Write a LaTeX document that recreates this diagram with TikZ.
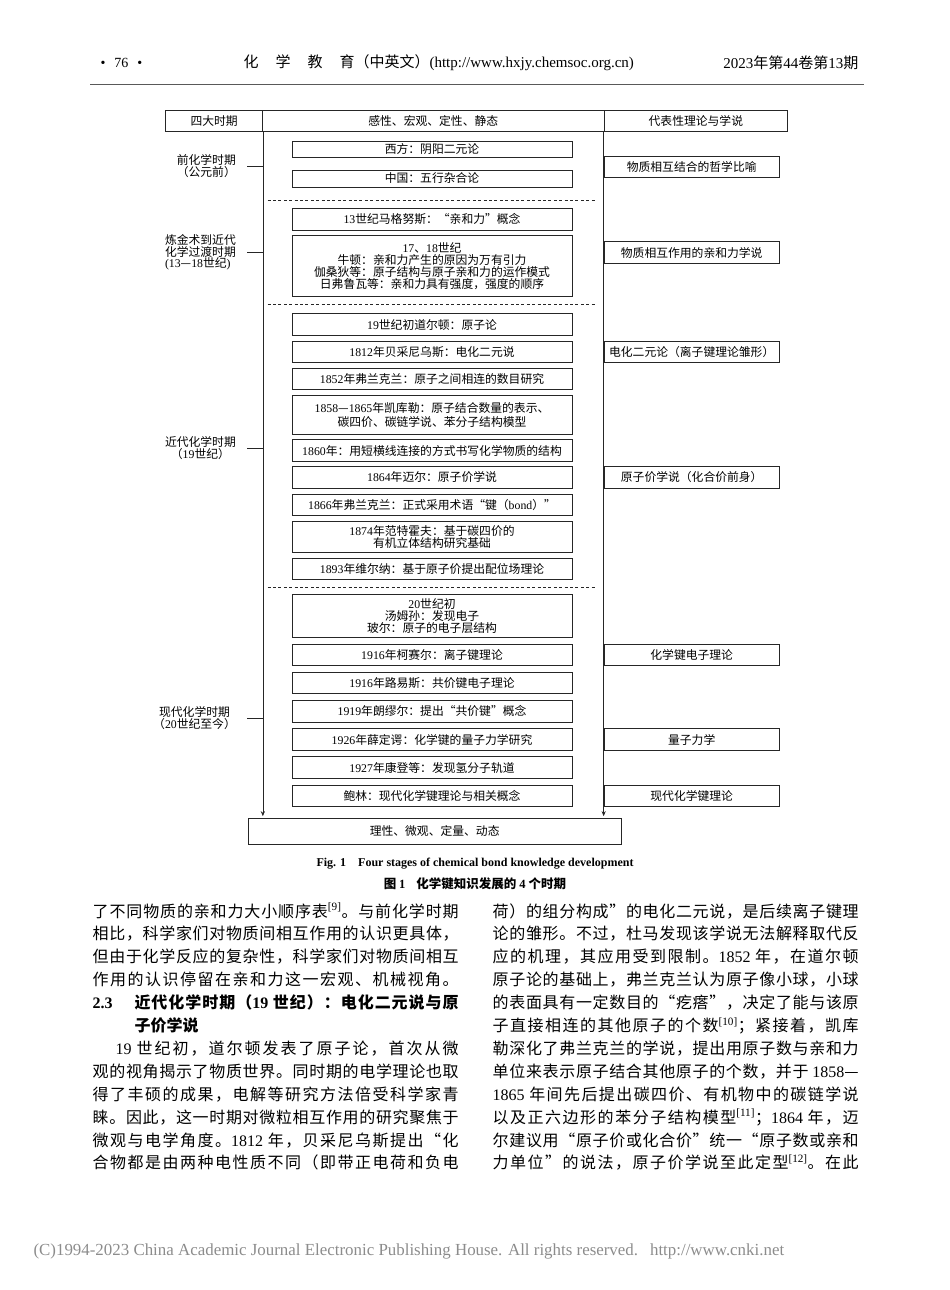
\documentclass[tikz,border=0pt]{standalone}
\usepackage{fontspec}
\setmainfont{Liberation Serif}
\newfontfamily\cjk{Noto Sans CJK SC}
\usetikzlibrary{arrows.meta,positioning}

% CJK runs switch font by themselves
\XeTeXinterchartokenstate=1
\newXeTeXintercharclass\CJKcls
\makeatletter
\count@="3000 \loop\XeTeXcharclass\count@=\CJKcls\advance\count@ 1 \ifnum\count@<"3040 \repeat
\count@="4E00 \loop\XeTeXcharclass\count@=\CJKcls\advance\count@ 1 \ifnum\count@<"A000 \repeat
\count@="FF00 \loop\XeTeXcharclass\count@=\CJKcls\advance\count@ 1 \ifnum\count@<"FF5F \repeat
\makeatother
\XeTeXcharclass"201C=\CJKcls \XeTeXcharclass"201D=\CJKcls \XeTeXcharclass"2014=\CJKcls
\newcommand\latinfam{\fontfamily{\rmdefault}\selectfont}
\XeTeXinterchartoks 0 \CJKcls = {\cjk}
\XeTeXinterchartoks 4095 \CJKcls = {\cjk}
\XeTeXinterchartoks \CJKcls 0 = {\latinfam}
\XeTeXinterchartoks 4095 0 = {\latinfam}
\XeTeXinterchartoks \CJKcls \CJKcls = {\hskip0pt plus .3em\relax}

\begin{document}
\begin{tikzpicture}[x=1pt, y=-1pt,
  dg/.style={font=\fontsize{11.8}{11.9}\selectfont},
  cell/.style={dg, draw=black!85, line width=.7pt, inner sep=0pt, minimum height=21.7pt},
  evt/.style={dg, draw=black!85, line width=.7pt, inner sep=1pt, minimum width=280pt, minimum height=21.5pt, align=center},
  thy/.style={dg, draw=black!85, line width=.7pt, inner sep=1pt, minimum width=175.4pt, minimum height=21.5pt},
  per/.style={dg, anchor=east, align=center, inner sep=0pt},
  tie/.style={black!85, line width=.7pt},
  spine/.style={black!85, line width=.7pt, -{Stealth[length=5pt,width=4.2pt]}},
  sep/.style={black!85, line width=.6pt, dash pattern=on 3pt off 2.4pt},
  body/.style={anchor=base west, inner sep=0pt, font=\fontsize{16}{23}\selectfont},
]
\useasboundingbox (0,0) rectangle (950,1290);
\def\xM{432}\def\xT{691.7}

% ---------- page header ----------
\node[anchor=west, font=\fontsize{14}{15}\selectfont] (pgno) at (97,63) {•\hspace{9pt}76\hspace{9pt}•};
\node[anchor=west, font=\fontsize{15}{16}\selectfont] (jrnl) at (240,63)
  {化\hspace{17pt}学\hspace{17pt}教\hspace{17pt}育（中英文）(http://www.hxjy.chemsoc.org.cn)};
\node[anchor=east, font=\fontsize{15}{16}\selectfont] (issue) at (862,63) {2023年第44卷第13期};
\draw[black!65, line width=1pt] (90,84) -- (864,84);

% ---------- table head ----------
\node[cell, minimum width=96.7pt] (hPer) at (214.15,120.85) {四大时期};
\node[cell, minimum width=341.5pt] (hTop) at (433.25,120.85) {感性、宏观、定性、静态};
\node[cell, minimum width=183.7pt] (hThy) at (695.85,120.85) {代表性理论与学说};

% ---------- events ----------
\node[evt, minimum height=16pt] (e1) at (\xM,149) {西方：阴阳二元论};
\node[evt, minimum height=17pt] (e2) at (\xM,178.5) {中国：五行杂合论};
\node[evt] (e3) at (\xM,219.5) {13世纪马格努斯：“亲和力”概念};
\node[evt, minimum height=61pt] (e4) at (\xM,266) {17、18世纪\\牛顿：亲和力产生的原因为万有引力\\伽桑狄等：原子结构与原子亲和力的运作模式\\日弗鲁瓦等：亲和力具有强度，强度的顺序};
\node[evt] (e5) at (\xM,324.5) {19世纪初道尔顿：原子论};
\node[evt] (e6) at (\xM,352) {1812年贝采尼乌斯：电化二元说};
\node[evt] (e7) at (\xM,379) {1852年弗兰克兰：原子之间相连的数目研究};
\node[evt, minimum height=38.3pt] (e8) at (\xM,414.8) {1858—1865年凯库勒：原子结合数量的表示、\\[1.8pt]碳四价、碳链学说、苯分子结构模型};
\node[evt] (e9) at (\xM,450.5) {1860年：用短横线连接的方式书写化学物质的结构};
\node[evt] (e10) at (\xM,477.5) {1864年迈尔：原子价学说};
\node[evt] (e11) at (\xM,505) {1866年弗兰克兰：正式采用术语“键（bond）”};
\node[evt, minimum height=30.7pt] (e12) at (\xM,537) {1874年范特霍夫：基于碳四价的\\有机立体结构研究基础};
\node[evt] (e13) at (\xM,568.8) {1893年维尔纳：基于原子价提出配位场理论};
\node[evt, minimum height=43.3pt] (e14) at (\xM,615.7) {20世纪初\\汤姆孙：发现电子\\玻尔：原子的电子层结构};
\node[evt] (e15) at (\xM,654.8) {1916年柯赛尔：离子键理论};
\node[evt] (e16) at (\xM,682.8) {1916年路易斯：共价键电子理论};
\node[evt] (e17) at (\xM,711.2) {1919年朗缪尔：提出“共价键”概念};
\node[evt] (e18) at (\xM,739.5) {1926年薛定谔：化学键的量子力学研究};
\node[evt] (e19) at (\xM,767.5) {1927年康登等：发现氢分子轨道};
\node[evt] (e20) at (\xM,795.8) {鲍林：现代化学键理论与相关概念};

\foreach \y in {200,304,587.3}{ \draw[sep] (267.6,\y) -- (596.6,\y); }

% ---------- theories ----------
\node[thy] (t1) at (\xT,167) {物质相互结合的哲学比喻};
\node[thy] (t2) at (\xT,252.5) {物质相互作用的亲和力学说};
\node[thy] (t3) at (\xT,352) {电化二元论（离子键理论雏形）};
\node[thy] (t4) at (\xT,477.5) {原子价学说（化合价前身）};
\node[thy] (t5) at (\xT,654.8) {化学键电子理论};
\node[thy] (t6) at (\xT,739.5) {量子力学};
\node[thy] (t7) at (\xT,795.8) {现代化学键理论};

% ---------- bottom and spines ----------
\node[cell, minimum width=372.7pt, minimum height=26pt] (bot) at (434.65,831) {理性、微观、定量、动态};
\draw[spine] (hPer.south east) -- ([yshift=1.5pt]bot.north -| hPer.south east);
\draw[spine] (hThy.south west) -- ([yshift=1.5pt]bot.north -| hThy.south west);

% ---------- periods ----------
\node[per] (p1) at (236,166) {前化学时期\\（公元前）};
\node[per, align=left] (p2) at (236,252.3) {炼金术到近代\\化学过渡时期\\(13—18世纪)};
\node[per] (p3) at (236,448.3) {近代化学时期\\（19世纪）};
\node[per] (p4) at (236,718.3) {现代化学时期\\（20世纪至今）};
\foreach \p in {p1,p2,p3,p4}{ \draw[tie] ([xshift=11pt]\p.east) -- (\p.east -| hPer.south east); }

% ---------- caption ----------
\node[font=\bfseries\fontsize{12}{13}\selectfont] (capE) at (475,864) {Fig. 1\hspace{12pt}Four stages of chemical bond knowledge development};
\node[font=\bfseries\fontsize{12.5}{13}\selectfont] (capC) at (475,883.5) {图 1\hspace{11pt}化学键知识发展的 4 个时期};

% ---------- body text ----------
\foreach \i/\t in {0/{了不同物质的亲和力大小顺序表\textsuperscript{[9]}。与前化学时期},
  1/{相比，科学家们对物质间相互作用的认识更具体，},
  2/{但由于化学反应的复杂性，科学家们对物质间相互},
  3/{作用的认识停留在亲和力这一宏观、机械视角。},
  7/{观的视角揭示了物质世界。同时期的电学理论也取},
  8/{得了丰硕的成果，电解等研究方法倍受科学家青},
  9/{睐。因此，这一时期对微粒相互作用的研究聚焦于},
  10/{微观与电学角度。1812 年，贝采尼乌斯提出“化},
  11/{合物都是由两种电性质不同（即带正电荷和负电}}{
  \node[body] (L\i) at (92.5,917+22.9*\i) {\makebox[366pt][s]{\t}};
}
\node[body, font=\bfseries\fontsize{16}{23}\selectfont] (L4) at (92.5,917+22.9*4)
  {\makebox[41.8pt][l]{2.3}\makebox[324.2pt][s]{近代化学时期（19 世纪）：电化二元说与原}};
\node[body, font=\bfseries\fontsize{16}{23}\selectfont] (L5) at (134.3,917+22.9*5) {子价学说};
\node[body] (L6) at (92.5,917+22.9*6) {\makebox[366pt][s]{\hspace*{23pt}19 世纪初，道尔顿发表了原子论，首次从微}};

\foreach \i/\t in {0/{荷）的组分构成”的电化二元说，是后续离子键理},
  1/{论的雏形。不过，杜马发现该学说无法解释取代反},
  2/{应的机理，其应用受到限制。1852 年，在道尔顿},
  3/{原子论的基础上，弗兰克兰认为原子像小球，小球},
  4/{的表面具有一定数目的“疙瘩”，决定了能与该原},
  5/{子直接相连的其他原子的个数\textsuperscript{[10]}；紧接着，凯库},
  6/{勒深化了弗兰克兰的学说，提出用原子数与亲和力},
  7/{单位来表示原子结合其他原子的个数，并于 1858—},
  8/{1865 年间先后提出碳四价、有机物中的碳链学说},
  9/{以及正六边形的苯分子结构模型\textsuperscript{[11]}；1864 年，迈},
  10/{尔建议用“原子价或化合价”统一“原子数或亲和},
  11/{力单位”的说法，原子价学说至此定型\textsuperscript{[12]}。在此}}{
  \node[body] (R\i) at (492.5,917+22.9*\i) {\makebox[366pt][s]{\t}};
}

% ---------- footer ----------
\node[anchor=west, text=black!45, font=\fontsize{16.9}{17}\selectfont] (foot) at (30,1251)
  {(C)1994-2023 China Academic Journal Electronic Publishing House. All rights reserved.\hspace{12pt}http://www.cnki.net};
\end{tikzpicture}
\end{document}
